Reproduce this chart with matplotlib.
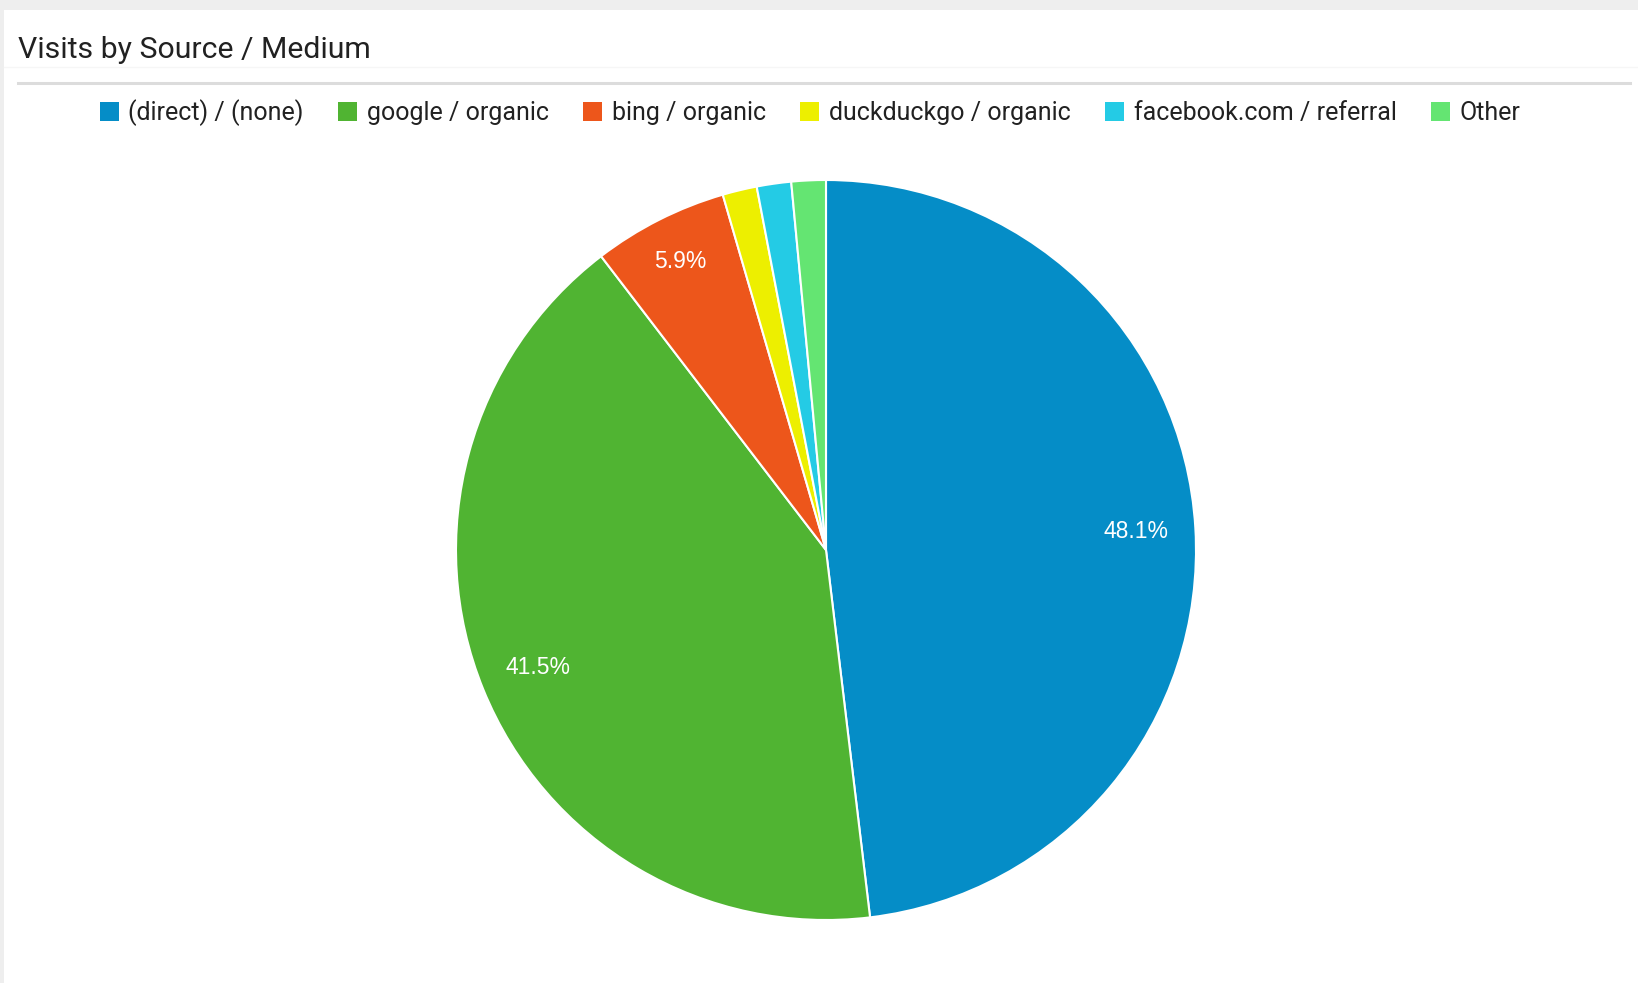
import numpy as np
import matplotlib
matplotlib.use("Agg")
import matplotlib.pyplot as plt
from matplotlib.patches import Rectangle, Patch
from matplotlib.lines import Line2D

# ---- data ----
title = "Visits by Source / Medium"
categories = ["(direct) / (none)", "google / organic", "bing / organic",
              "duckduckgo / organic", "facebook.com / referral", "Other"]
shares = [48.1, 41.5, 5.9, 1.5, 1.5, 1.5]
colors = ["#058DC7", "#50B432", "#ED561B", "#EDEF00", "#24CBE5", "#64E572"]

W, H = 1638, 983
fig = plt.figure(figsize=(W / 100, H / 100), dpi=100)
fig.patch.set_facecolor("#eeeeee")

def fx(px):
    return px / W

def fy(py):
    return 1 - py / H

# white card
fig.patches.append(Rectangle((fx(4), 0), 1 - fx(4), fy(10), transform=fig.transFigure,
                             facecolor="white", edgecolor="none", zorder=-5))
# faint and main separators
fig.lines.append(Line2D([fx(4), 1], [fy(67), fy(67)], transform=fig.transFigure,
                        color="#f6f6f6", lw=1, zorder=-4))
fig.lines.append(Line2D([fx(18), fx(1630)], [fy(83), fy(83)], transform=fig.transFigure,
                        color="#dcdcdc", lw=2.2, zorder=-4))

fig.text(fx(18), fy(50), title, fontsize=21.8, family=["Roboto", "DejaVu Sans"],
         color="#212121", ha="left", va="center")

# pie
cx, cy, r = 826, 550, 370
ax = fig.add_axes([fx(cx - r), fy(cy + r), (2 * r) / W, (2 * r) / H])
ax.set_zorder(2)

def fmt(p):
    return f"{p:.1f}%" if p >= 5 else ""

wedges, texts, autotexts = ax.pie(
    shares, colors=colors, startangle=90, counterclock=False, radius=1,
    autopct=fmt, pctdistance=0.84,
    wedgeprops=dict(edgecolor="white", linewidth=1.5),
    textprops=dict(color="white", fontsize=16.5, family=["Liberation Sans", "DejaVu Sans"]))

# narrow slices get their label a bit further out
for w, t in zip(wedges, autotexts):
    frac = (w.theta2 - w.theta1) / 360
    if t.get_text() and frac < 0.1:
        mid = np.deg2rad((w.theta1 + w.theta2) / 2)
        t.set_position((0.875 * np.cos(mid), 0.875 * np.sin(mid)))

ax.set_xlim(-1, 1)
ax.set_ylim(-1, 1)
ax.set_aspect("equal")
ax.axis("off")

handles = [Patch(facecolor=c, edgecolor="none") for c in colors]
fig.legend(handles, categories, ncol=6, loc="center",
           bbox_to_anchor=(fx(810), fy(113)), frameon=False,
           prop=dict(family=["Roboto", "DejaVu Sans"], size=18),
           handlelength=0.76, handleheight=0.8, handletextpad=0.38,
           columnspacing=1.38, labelcolor="#212121")

fig.savefig("out.png", dpi=100, facecolor=fig.get_facecolor())
